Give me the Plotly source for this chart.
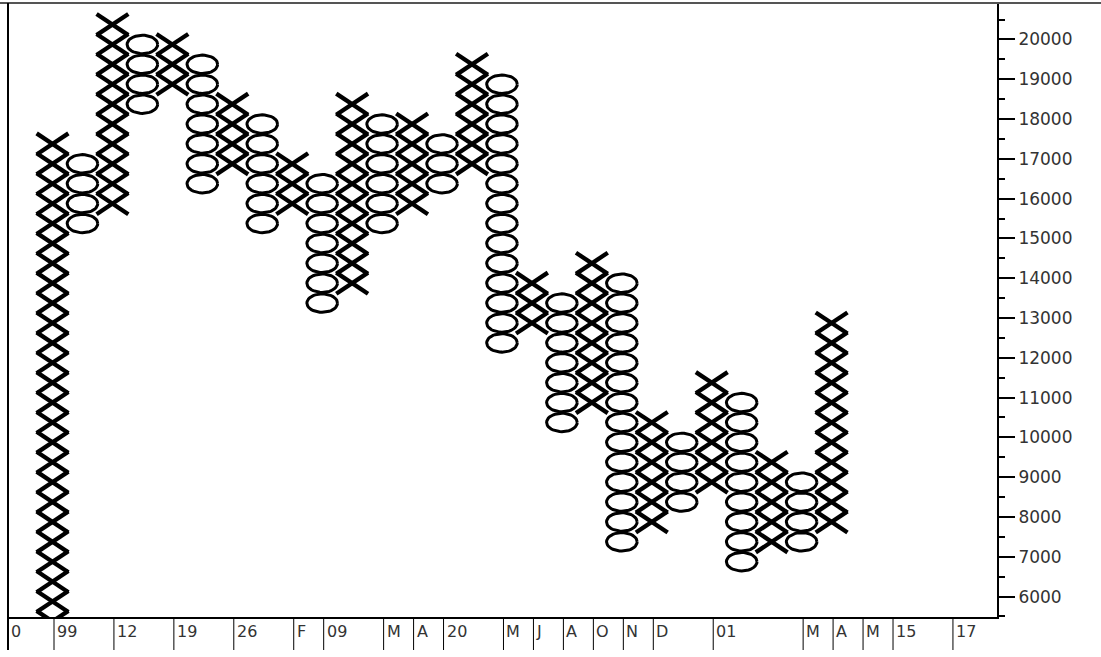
import numpy as np
import plotly.graph_objects as go

# ---- data (box centre values, box size 500) ----
col_kind = list("XOXOXOXOXOXOXOXOXOXOXOXOXOX")
col_top = [17375, 16875, 20375, 19875, 19875, 19375, 18375, 17875, 16875, 16375,
           18375, 17875, 17875, 17375, 19375, 18875, 13875, 13375, 14375, 13875,
           10375, 9875, 11375, 10875, 9375, 8875, 12875]
col_bottom = [3875, 15375, 15875, 18375, 18875, 16375, 16875, 15375, 15875, 13375,
              13875, 15375, 15875, 16375, 16875, 12375, 12875, 10375, 10875, 7375,
              7875, 8375, 8875, 6875, 7375, 7375, 7875]
box_size = 500

period_cols = [0, 2, 4, 6, 8, 9, 11, 12, 13, 15, 16, 17, 18, 19, 20, 22, 25, 26, 27, 28, 30]
period_labels = ["99", "12", "19", "26", "F", "09", "M", "A", "20", "M", "J",
                 "A", "O", "N", "D", "01", "M", "A", "M", "15", "17"]
edge_label = "0"

y_ticks = list(range(6000, 20001, 1000))

# ---- geometry ----
W, H = 1101, 657
ml, mr, mt, mb = 8, 104, 3, 40
x_range = [-1.485, 31.52]
y_range = [5486, 20917]
plot_h = H - mt - mb

wx, hy = 0.53, 265          # half width / half height of an X
a, b = 0.51, 232            # ellipse semi axes of an O

xx, xy, ox, oy = [], [], [], []
t = np.linspace(0, 2 * np.pi, 41)
for i, (k, top, bot) in enumerate(zip(col_kind, col_top, col_bottom)):
    levels = np.arange(bot, top + 1, box_size)
    for v in levels:
        if k == "X":
            xx += [i - wx, i + wx, None, i - wx, i + wx, None]
            xy += [v - hy, v + hy, None, v + hy, v - hy, None]
        else:
            ox += list(i + a * np.cos(t)) + [None]
            oy += list(v + b * np.sin(t)) + [None]

fig = go.Figure()
fig.add_trace(go.Scatter(x=xx, y=xy, mode="lines", line=dict(color="black", width=4.3),
                         hoverinfo="skip", showlegend=False))
fig.add_trace(go.Scatter(x=ox, y=oy, mode="lines", fill="toself", fillcolor="white",
                         line=dict(color="black", width=3), hoverinfo="skip",
                         showlegend=False))

shapes = []
strip_bottom = -(650 - (H - mb)) / plot_h
# frame
shapes.append(dict(type="line", xref="paper", yref="paper", x0=-ml / (W - ml - mr), x1=(W - ml) / (W - ml - mr),
                   y0=1, y1=1, line=dict(color="#555555", width=2)))
shapes.append(dict(type="line", xref="paper", yref="paper", x0=0, x1=0, y0=1, y1=strip_bottom,
                   line=dict(color="black", width=2)))
# period separators
for c in period_cols:
    shapes.append(dict(type="line", xref="x", yref="paper", x0=c + 0.05, x1=c + 0.05, y0=0, y1=strip_bottom,
                       line=dict(color="black", width=1)))

annotations = []
lab_y = -(631 - (H - mb)) / plot_h
for c, lab in zip(period_cols, period_labels):
    annotations.append(dict(x=c + 0.05, y=lab_y, xref="x", yref="paper", text=lab, showarrow=False,
                            xanchor="left", yanchor="middle", xshift=1,
                            font=dict(family="DejaVu Sans", size=16, color="#333333")))
annotations.append(dict(x=0, y=lab_y, xref="paper", yref="paper", text=edge_label, showarrow=False,
                        xanchor="left", yanchor="middle", xshift=1,
                        font=dict(family="DejaVu Sans", size=16, color="#333333")))

fig.update_layout(
    width=W, height=H, margin=dict(l=ml, r=mr, t=mt, b=mb, pad=0),
    plot_bgcolor="white", paper_bgcolor="white",
    shapes=shapes, annotations=annotations,
    xaxis=dict(range=x_range, showticklabels=False, ticks="", showgrid=False, zeroline=False,
               showline=True, linecolor="black", linewidth=2),
    yaxis=dict(range=y_range, side="right", tickvals=y_ticks, ticktext=[str(v) for v in y_ticks],
               ticks="outside", ticklen=16, tickwidth=2, tickcolor="black",
               showgrid=False, zeroline=False, showline=True, linecolor="black", linewidth=2,
               tickfont=dict(family="DejaVu Sans", size=17, color="#333333"),
               minor=dict(dtick=500, tick0=0, ticks="outside", ticklen=6, tickwidth=2, tickcolor="black")),
)

fig.write_html("out.html", config={"displayModeBar": False},
               post_script="document.body.style.margin='0';document.body.style.overflow='hidden';")
